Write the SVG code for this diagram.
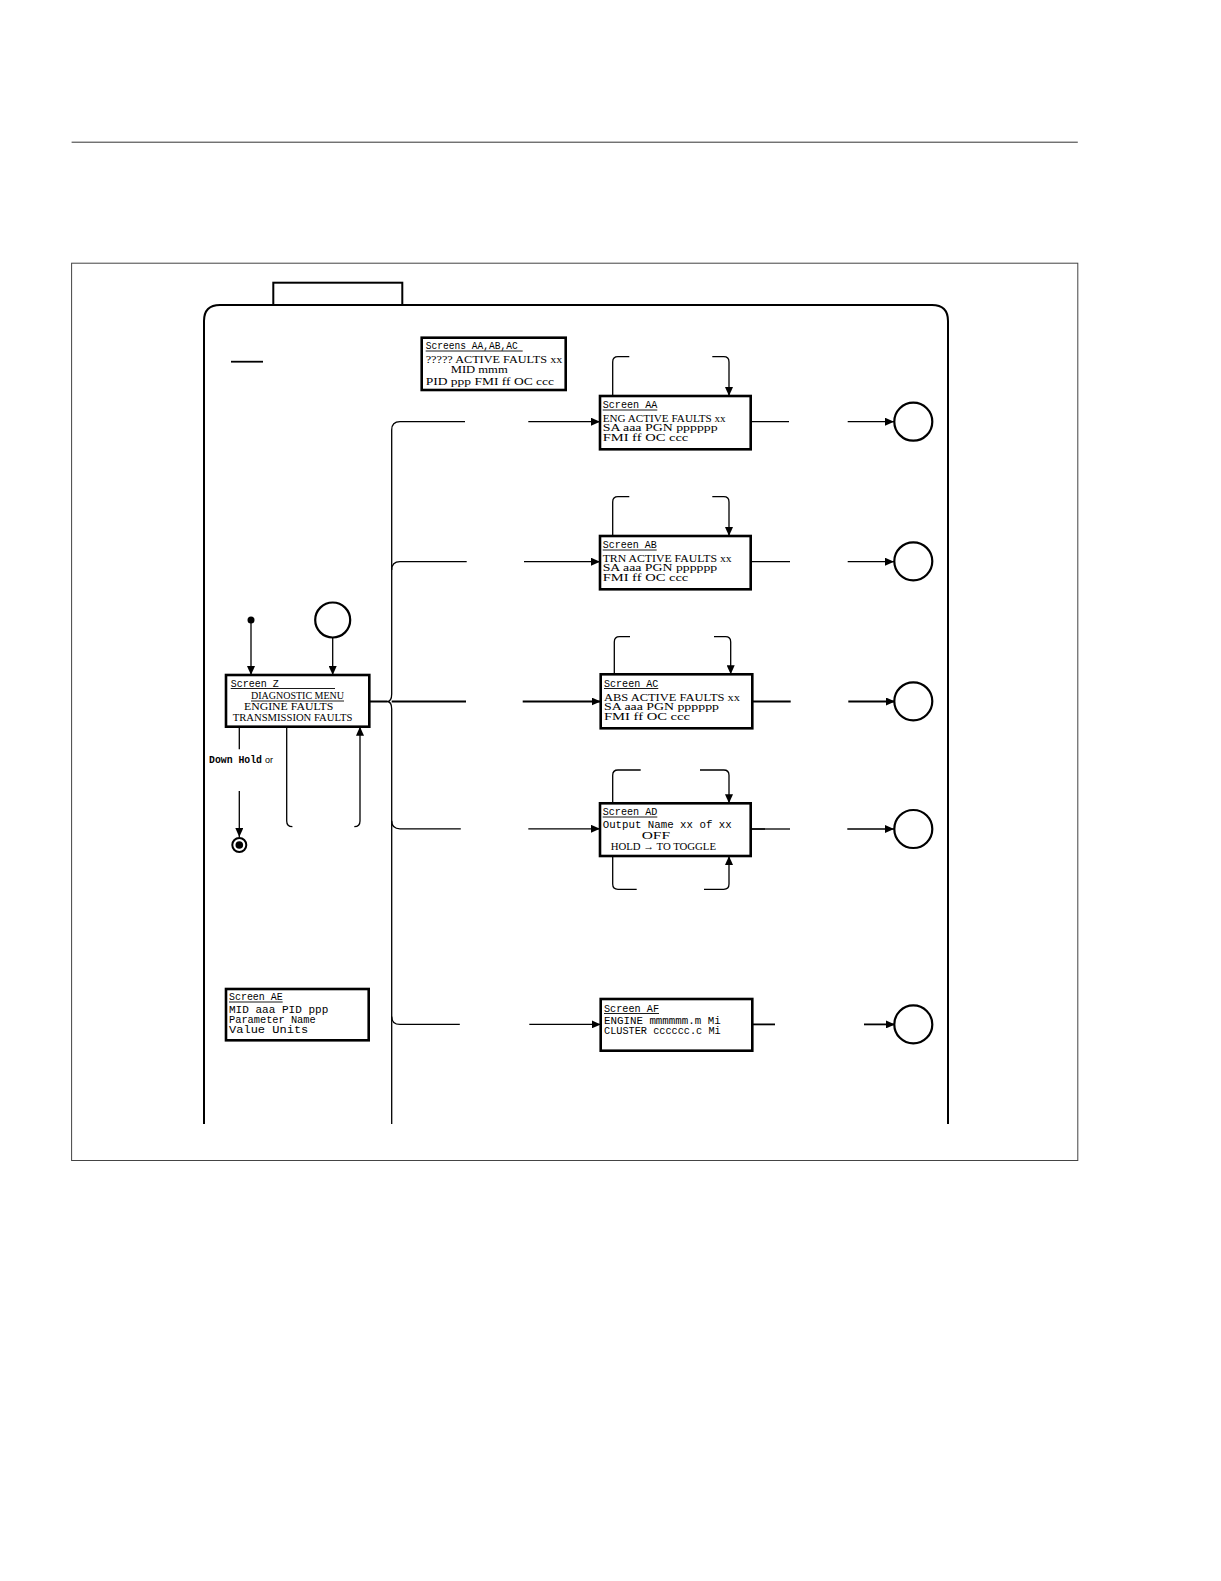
<svg xmlns="http://www.w3.org/2000/svg" width="1221" height="1581" viewBox="0 0 1221 1581">
<style>
.bg{fill:#fff}
.frame{fill:none;stroke:#000;stroke-width:2}
.thin{fill:none;stroke:#444;stroke-width:1}
.box{fill:#fff;stroke:#000;stroke-width:2.6}
.cn{fill:none;stroke:#000;stroke-width:1.3}
.cnb{fill:none;stroke:#000;stroke-width:1.8}
.circ{fill:#fff;stroke:#000;stroke-width:2.2}
.ul{stroke:#000;stroke-width:0.9}
.mono{font-family:"Liberation Mono",monospace;font-size:10px;fill:#000}
.ser{font-family:"Liberation Serif",serif;font-size:10.5px;fill:#000}
.bold{font-family:"Liberation Mono",monospace;font-size:10px;font-weight:bold;fill:#000}
.sans{font-family:"Liberation Sans",sans-serif;font-size:9px;fill:#000}
</style>
<defs>
<marker id="ar" markerWidth="9" markerHeight="8" refX="9" refY="4" orient="auto" markerUnits="userSpaceOnUse">
<path d="M0,0 L9,4 L0,8 z" fill="#000"/>
</marker>
</defs>
<rect class="bg" x="0" y="0" width="1221" height="1581"/>
<g id="page">
<line x1="71.6" y1="142.2" x2="1077.8" y2="142.2" stroke="#333" stroke-width="1"/>
<rect class="thin" x="71.6" y="263.2" width="1006.2" height="897.3"/>
<rect class="frame" x="273.3" y="282.7" width="129" height="22.3"/>
<path class="frame" d="M204,1124 V321 Q204,305 220,305 H932 Q948,305 948,321 V1124"/>
<line x1="231" y1="361.7" x2="263" y2="361.7" stroke="#000" stroke-width="1.8"/>
</g>
<g id="legend">
<rect class="box" x="421.7" y="337.7" width="144" height="52.3"/>
<text class="mono" x="425.7" y="349" textLength="92" lengthAdjust="spacingAndGlyphs">Screens AA,AB,AC</text>
<line class="ul" x1="425.7" y1="351" x2="522.7" y2="351"/>
<text class="ser" x="425.7" y="362.5" textLength="136.7" lengthAdjust="spacingAndGlyphs">????? ACTIVE FAULTS xx</text>
<text class="ser" x="450.7" y="372.5" textLength="57" lengthAdjust="spacingAndGlyphs">MID mmm</text>
<text class="ser" x="425.7" y="384.5" textLength="128.3" lengthAdjust="spacingAndGlyphs">PID ppp FMI ff OC ccc</text>
</g>
<g id="connectors">
<path class="cn" d="M391.7,430 V694 Q391.7,701.5 387,701.5 Q391.7,701.5 391.7,709 V1124"/>
<path class="cn" d="M391.7,430 Q391.7,421.7 400,421.7 H465"/>
<path class="cn" d="M391.7,570 Q391.7,561.7 400,561.7 H466.7"/>
<path class="cn" d="M391.7,820.8 Q391.7,828.8 400,828.8 H460.8"/>
<path class="cn" d="M391.7,1016.4 Q391.7,1024.4 400,1024.4 H459.8"/>
<path class="cnb" d="M369.3,701.5 H387 M391.7,701.5 H466"/>
<line class="cn" x1="528.3" y1="421.7" x2="600" y2="421.7" marker-end="url(#ar)"/>
<line class="cn" x1="524" y1="561.7" x2="600" y2="561.7" marker-end="url(#ar)"/>
<line class="cnb" x1="522.7" y1="701.5" x2="600.7" y2="701.5" marker-end="url(#ar)"/>
<line class="cn" x1="528.3" y1="828.8" x2="600" y2="828.8" marker-end="url(#ar)"/>
<line class="cn" x1="529.3" y1="1024.4" x2="600.7" y2="1024.4" marker-end="url(#ar)"/>
<line class="cn" x1="750.7" y1="421.7" x2="789" y2="421.7"/>
<line class="cn" x1="847.7" y1="421.7" x2="894" y2="421.7" marker-end="url(#ar)"/>
<line class="cn" x1="750.7" y1="561.7" x2="790" y2="561.7"/>
<line class="cn" x1="847.7" y1="561.7" x2="894" y2="561.7" marker-end="url(#ar)"/>
<line class="cnb" x1="752.3" y1="701.5" x2="790.7" y2="701.5"/>
<line class="cnb" x1="848.3" y1="701.5" x2="895" y2="701.5" marker-end="url(#ar)"/>
<line class="cnb" x1="750.7" y1="829" x2="765" y2="829"/>
<line class="cn" x1="765" y1="829" x2="790" y2="829"/>
<line class="cn" x1="847.3" y1="829" x2="894" y2="829" marker-end="url(#ar)"/>
<line class="cnb" x1="752.3" y1="1024.4" x2="775" y2="1024.4"/>
<line class="cnb" x1="864" y1="1024.4" x2="895" y2="1024.4" marker-end="url(#ar)"/>
<path class="cn" d="M612.7,396 V362 Q612.7,356.7 618,356.7 H629.3"/>
<path class="cn" d="M712.3,356.7 H723.7 Q729,356.7 729,362 V396" marker-end="url(#ar)"/>
<path class="cn" d="M612.7,536 V502 Q612.7,496.7 618,496.7 H629.3"/>
<path class="cn" d="M712.3,496.7 H723.7 Q729,496.7 729,502 V536" marker-end="url(#ar)"/>
<path class="cn" d="M614.3,674.3 V642 Q614.3,636.7 619.6,636.7 H630"/>
<path class="cn" d="M714,636.7 H725.4 Q730.7,636.7 730.7,642 V674.3" marker-end="url(#ar)"/>
<path class="cn" d="M612.7,803.3 V775.3 Q612.7,770 618,770 H640.7"/>
<path class="cn" d="M700,770 H723.7 Q729,770 729,775.3 V803.3" marker-end="url(#ar)"/>
<path class="cn" d="M612.7,856 V884 Q612.7,889.3 618,889.3 H636.7"/>
<path class="cn" d="M704,889.3 H723.7 Q729,889.3 729,884 V856" marker-end="url(#ar)"/>
<line class="cn" x1="251" y1="620" x2="251" y2="675" marker-end="url(#ar)"/>
<line class="cn" x1="332.7" y1="637.5" x2="332.7" y2="675" marker-end="url(#ar)"/>
<line class="cn" x1="239.3" y1="726.7" x2="239.3" y2="749.3"/>
<line class="cn" x1="239.3" y1="791" x2="239.3" y2="837" marker-end="url(#ar)"/>
<path class="cn" d="M286.7,726.7 V821 Q286.7,826.7 292.4,826.7"/>
<path class="cn" d="M354.3,826.7 Q360,826.7 360,821 V726.7" marker-end="url(#ar)"/>
</g>
<g id="start">
<circle cx="251" cy="620" r="3.5" fill="#000"/>
</g>
<g id="conn-z">
<circle class="circ" cx="332.7" cy="620" r="17.5"/>
</g>
<g id="end">
<circle cx="239.3" cy="845" r="7" fill="#fff" stroke="#000" stroke-width="2"/>
<circle cx="239.3" cy="845" r="3.8" fill="#000"/>
</g>
<g id="label-down">
<text class="bold" x="209" y="762.7" textLength="53" lengthAdjust="spacingAndGlyphs">Down Hold</text>
<text class="sans" x="265" y="762.7">or</text>
</g>
<g id="screen-z">
<rect class="box" x="226" y="675" width="143.3" height="51.7"/>
<text class="mono" x="230.7" y="686.5" textLength="48" lengthAdjust="spacingAndGlyphs">Screen Z</text>
<line class="ul" x1="230.7" y1="688.5" x2="335" y2="688.5"/>
<text class="ser" x="251" y="699" textLength="93" lengthAdjust="spacingAndGlyphs">DIAGNOSTIC MENU</text>
<line class="ul" x1="251" y1="701" x2="344" y2="701"/>
<text class="ser" x="244" y="710" textLength="89.3" lengthAdjust="spacingAndGlyphs">ENGINE FAULTS</text>
<text class="ser" x="232.7" y="721" textLength="119.7" lengthAdjust="spacingAndGlyphs">TRANSMISSION FAULTS</text>
</g>
<g id="screen-aa">
<rect class="box" x="600" y="396" width="150.7" height="53.3"/>
<text class="mono" x="602.7" y="408" textLength="54.6" lengthAdjust="spacingAndGlyphs">Screen AA</text>
<line class="ul" x1="602.7" y1="410" x2="657.3" y2="410"/>
<text class="ser" x="602.7" y="421.5" textLength="123" lengthAdjust="spacingAndGlyphs">ENG ACTIVE FAULTS xx</text>
<text class="ser" x="602.7" y="431" textLength="115" lengthAdjust="spacingAndGlyphs">SA aaa  PGN pppppp</text>
<text class="ser" x="602.7" y="440.5" textLength="85.6" lengthAdjust="spacingAndGlyphs">FMI ff  OC ccc</text>
</g>
<g id="screen-ab">
<rect class="box" x="600" y="536" width="150.7" height="53.3"/>
<text class="mono" x="602.7" y="548" textLength="54" lengthAdjust="spacingAndGlyphs">Screen AB</text>
<line class="ul" x1="602.7" y1="550" x2="656.7" y2="550"/>
<text class="ser" x="602.7" y="561.5" textLength="129" lengthAdjust="spacingAndGlyphs">TRN ACTIVE FAULTS  xx</text>
<text class="ser" x="602.7" y="571" textLength="114.6" lengthAdjust="spacingAndGlyphs">SA aaa  PGN pppppp</text>
<text class="ser" x="602.7" y="580.5" textLength="85.6" lengthAdjust="spacingAndGlyphs">FMI ff  OC ccc</text>
</g>
<g id="screen-ac">
<rect class="box" x="600.7" y="674.3" width="151.6" height="54"/>
<text class="mono" x="604" y="686.5" textLength="54.3" lengthAdjust="spacingAndGlyphs">Screen AC</text>
<line class="ul" x1="604" y1="688.5" x2="658.3" y2="688.5"/>
<text class="ser" x="604" y="700.5" textLength="136" lengthAdjust="spacingAndGlyphs">ABS ACTIVE FAULTS   xx</text>
<text class="ser" x="604" y="710" textLength="115" lengthAdjust="spacingAndGlyphs">SA aaa  PGN pppppp</text>
<text class="ser" x="604" y="719.5" textLength="86" lengthAdjust="spacingAndGlyphs">FMI ff  OC ccc</text>
</g>
<g id="screen-ad">
<rect class="box" x="600" y="803.3" width="150.7" height="52.7"/>
<text class="mono" x="602.7" y="815" textLength="54.6" lengthAdjust="spacingAndGlyphs">Screen AD</text>
<line class="ul" x1="602.7" y1="817" x2="657.3" y2="817"/>
<text class="mono" x="602.7" y="827.5" textLength="129" lengthAdjust="spacingAndGlyphs">Output Name  xx of xx</text>
<text class="ser" x="641.7" y="838.5" font-size="12" textLength="28.3" lengthAdjust="spacingAndGlyphs">OFF</text>
<text class="ser" x="610.7" y="850" textLength="105.3" lengthAdjust="spacingAndGlyphs">HOLD → TO TOGGLE</text>
</g>
<g id="screen-ae">
<rect class="box" x="226" y="989" width="142.7" height="51.3"/>
<text class="mono" x="229" y="1000" textLength="53.7" lengthAdjust="spacingAndGlyphs">Screen AE</text>
<line class="ul" x1="229" y1="1002" x2="282.7" y2="1002"/>
<text class="mono" x="229" y="1013" textLength="99.3" lengthAdjust="spacingAndGlyphs">MID aaa PID ppp</text>
<text class="mono" x="229" y="1022.7" textLength="86.7" lengthAdjust="spacingAndGlyphs">Parameter Name</text>
<text class="mono" x="229" y="1033.3" textLength="79.3" lengthAdjust="spacingAndGlyphs">Value  Units</text>
</g>
<g id="screen-af">
<rect class="box" x="600.7" y="999" width="151.6" height="51.7"/>
<text class="mono" x="604" y="1011.5" textLength="55" lengthAdjust="spacingAndGlyphs">Screen AF</text>
<line class="ul" x1="604" y1="1013.5" x2="659" y2="1013.5"/>
<text class="mono" x="604" y="1024" textLength="116.7" lengthAdjust="spacingAndGlyphs">ENGINE mmmmmm.m Mi</text>
<text class="mono" x="604" y="1033.5" textLength="116.7" lengthAdjust="spacingAndGlyphs">CLUSTER cccccc.c Mi</text>
</g>
<g id="conn-aa"><circle class="circ" cx="913.3" cy="421.7" r="19"/></g>
<g id="conn-ab"><circle class="circ" cx="913.3" cy="561.3" r="19"/></g>
<g id="conn-ac"><circle class="circ" cx="913.3" cy="701.3" r="19"/></g>
<g id="conn-ad"><circle class="circ" cx="913.3" cy="829" r="19"/></g>
<g id="conn-af"><circle class="circ" cx="913.3" cy="1024.4" r="19"/></g>
</svg>
